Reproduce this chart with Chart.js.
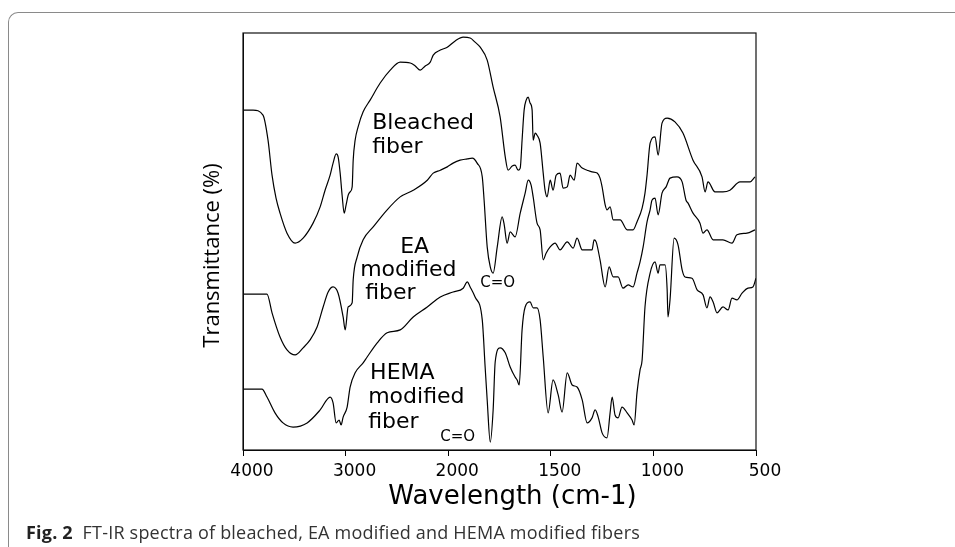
<!DOCTYPE html>
<html>
<head>
<meta charset="utf-8">
<script src="https://cdn.jsdelivr.net/npm/chart.js@4.4.0/dist/chart.umd.min.js"></script>
<style>
  html, body { margin: 0; padding: 0; background: #fff; }
  #wrap { position: relative; width: 955px; height: 547px; overflow: hidden; }
  #box { position: absolute; left: 8px; top: 12px; width: 990px; height: 600px;
         border-top: 1.5px solid #8a8a8a; border-left: 1.5px solid #8a8a8a; border-top-left-radius: 10px; }
  #chart { position: absolute; left: 0; top: 0; }
  #caption { position: absolute; left: 26px; top: 520px; font: 18px 'Open Sans', sans-serif; letter-spacing: 0.2px;
             color: #333; white-space: nowrap; }
  #caption b { color: #222; }
</style>
</head>
<body>
<div id="wrap">
  <div id="box"></div>
  <canvas id="chart" width="955" height="547"></canvas>
  <div id="caption"><b>Fig. 2</b>&nbsp; FT-IR spectra of bleached, EA modified and HEMA modified fibers</div>
</div>
<script>
// wavenumber ticks (cm-1); the axis is compressed 2:1 above 2000
const tickLabels = [4000, 3000, 2000, 1500, 1000, 500];

const bleachedWn = [4000,3902,3805,3756,3717,3678,3639,3571,3492,3414, 3317,3248,3200,3151,3122,3092,3073,3053,3034,3014,
  2995,2975,2956,2936,2926,2907,2878,2829,2761,2663, 2565,2468,2370,2321,2273,2224,2175,2146,2077,2009,
  1966,1927,1893,1869,1844,1810,1781,1747,1722,1708, 1688,1674,1659,1649,1640,1630,1620,1610,1601,1591,
  1586,1576,1567,1552,1537,1528,1518,1503,1489,1474, 1455,1440,1420,1406,1386,1372,1347,1323,1299,1274,
  1260,1250,1235,1226,1211,1196,1162,1128,1099,1080, 1055,1041,1031,1016,992,977,958,933,895,856,
  807,763,748,734,700,661,627,578,529,505];
const bleachedT = [81.5,81.5,80.3,74.3,65.9,60.4,56.8,52.0,49.6,50.8, 54.4,58.3,62.3,65.9,68.8,71.0,70.3,66.4,61.1,56.8,
  58.8,61.1,61.9,63.1,69.5,74.3,77.5,81.1,83.9,88.0, 91.1,93.0,92.8,92.1,91.1,92.1,93.0,94.7,95.9,96.6,
  98.1,99.0,98.8,97.8,96.6,93.5,87.0,79.9,70.3,67.1, 68.1,68.3,67.1,67.6,74.3,81.5,83.9,84.6,83.2,81.5,
  74.3,76.0,75.5,73.6,66.4,62.3,60.7,64.7,62.3,65.9, 66.4,62.8,63.1,65.9,64.7,68.8,67.6,67.1,66.7,66.4,
  65.2,63.1,58.8,57.6,58.3,55.2,55.2,52.8,52.8,54.7, 58.0,61.6,65.9,73.6,75.1,70.7,78.4,79.6,78.7,76.0,
  69.5,65.5,61.9,64.3,61.9,61.9,62.3,64.3,64.3,65.5];

const eaWn = [4000,3766,3717,3639,3571,3492,3414,3346,3278,3219, 3170,3122,3073,3024,3004,2975,2936,2926,2887,2829,
  2731,2595,2468,2341,2204,2146,2077,2009,1976,1942, 1907,1883,1859,1834,1825,1810,1795,1781,1761,1737,
  1727,1713,1698,1674,1649,1625,1610,1596,1586,1567, 1552,1537,1523,1503,1479,1455,1420,1391,1372,1347,
  1299,1289,1279,1260,1235,1216,1196,1172,1148,1123, 1099,1080,1065,1050,1031,1016,1007,992,977,958,
  938,919,885,860,841,831,807,773,758,739, 709,661,617,593,544,505];
const eaT = [37.4,37.4,32.9,27.1,24.0,22.8,24.5,26.4,29.5,34.3, 37.9,39.1,37.6,31.9,28.8,34.3,35.3,40.8,46.3,50.4,
  53.5,57.6,60.7,62.3,64.7,66.4,67.1,67.9,68.8,69.5, 69.8,70.0,68.8,65.5,59.9,48.7,43.9,42.4,48.7,55.9,
  54.0,49.6,52.3,51.1,56.8,61.6,64.7,63.5,60.7,54.4, 52.8,45.6,47.2,48.7,49.6,48.0,49.9,48.4,50.8,48.0,
  48.0,50.4,49.9,45.6,39.1,43.9,41.5,41.5,38.8,39.6, 39.1,42.4,45.1,48.7,54.7,57.6,59.9,60.4,56.4,61.6,
  63.1,65.2,65.5,64.3,59.9,59.2,56.8,54.4,52.0,52.8, 50.4,50.4,49.6,51.6,52.0,52.8];

const hemaWn = [4000,3815,3766,3688,3610,3512,3375,3248,3151,3122, 3092,3063,3044,3024,2985,2956,2907,2829,2790,2692,
  2595,2468,2341,2204,2077,1976,1927,1907,1893,1869, 1834,1820,1810,1795,1781,1771,1747,1722,1698,1674,
  1664,1654,1640,1625,1601,1586,1567,1552,1537,1513, 1489,1464,1445,1420,1396,1372,1347,1323,1299,1284,
  1269,1250,1226,1211,1201,1187,1172,1153,1128,1104, 1094,1080,1065,1055,1041,1016,992,977,968,943,
  933,929,919,899,880,860,846,812,787,758, 739,724,709,690,661,636,617,593,568,539,
  515,500];
const hemaT = [14.6,14.6,12.7,8.9,6.5,5.5,6.5,9.6,12.7,11.3, 6.5,7.2,6.0,7.9,10.3,15.1,18.5,20.9,22.3,25.7,
  28.1,28.8,31.9,34.3,36.7,37.9,38.8,40.3,39.1,36.7, 31.2,19.9,12.0,1.9,9.6,21.1,24.5,23.3,19.9,17.5,
  16.8,15.6,28.8,34.3,35.5,34.1,34.1,31.2,22.3,8.9, 16.8,13.2,9.1,18.5,15.6,15.1,12.0,6.5,7.7,9.6,
  7.9,4.1,2.9,8.9,12.7,8.4,7.7,10.3,8.9,7.2, 6.0,13.7,19.2,21.6,34.3,42.4,45.1,42.4,44.4,44.4,
  38.4,31.9,36.0,50.8,49.2,43.2,41.5,41.2,38.4,37.2, 34.1,36.7,35.5,32.9,34.3,33.6,36.4,36.0,37.6,38.8,
  39.1,41.2];

// text placed on the plot, in wavenumber / transmittance units
const curveNotes = [
  { text: 'Bleached', w: 2741, t: 78.4 },
  { text: 'fiber', w: 2741, t: 72.7 },
  { text: 'EA', w: 2468, t: 48.7 },
  { text: 'modified', w: 2858, t: 43.2 },
  { text: 'fiber', w: 2809, t: 37.6 },
  { text: 'C=O', w: 1844, t: 40.0, small: true },
  { text: 'HEMA', w: 2761, t: 18.5 },
  { text: 'modified', w: 2780, t: 12.7 },
  { text: 'fiber', w: 2780, t: 6.7 },
  { text: 'C=O', w: 2077, t: 3.1, small: true }
];

const xTitle = 'Wavelength (cm-1)';
const yTitle = 'Transmittance (%)';

// position along the axis: 4000-2000 at half scale, 2000-500 at full scale
function toPos(w) {
  return w >= 2000 ? (4000 - w) / 2 : 1000 + (2000 - w);
}

function series(wn, t) {
  return wn.map((w, i) => ({ x: toPos(w), y: t[i] }));
}

const plotFrame = {
  id: 'plotFrame',
  afterDatasetsDraw(chart) {
    const { ctx, chartArea: a } = chart;
    ctx.save();
    ctx.strokeStyle = '#111';
    ctx.lineWidth = 1.2;
    ctx.strokeRect(a.left, a.top, a.right - a.left, a.bottom - a.top);
    ctx.restore();
  }
};

const noteLabels = {
  id: 'noteLabels',
  afterDatasetsDraw(chart) {
    const { ctx, scales: { x, y } } = chart;
    ctx.save();
    ctx.fillStyle = '#000';
    ctx.textAlign = 'left';
    ctx.textBaseline = 'middle';
    curveNotes.forEach(n => {
      ctx.font = n.small ? '15px "DejaVu Sans"' : '22px "DejaVu Sans"';
      ctx.fillText(n.text, x.getPixelForValue(toPos(n.w)), y.getPixelForValue(n.t));
    });
    ctx.restore();
  }
};

// axis titles sit a little off-centre in the figure
const axisTitles = {
  id: 'axisTitles',
  afterDraw(chart) {
    const { ctx, chartArea: a } = chart;
    ctx.save();
    ctx.fillStyle = '#000';
    ctx.textAlign = 'center';
    ctx.textBaseline = 'middle';
    ctx.font = '26px "DejaVu Sans"';
    ctx.fillText(xTitle, (a.left + a.right) / 2 + 13, a.bottom + 47);
    ctx.translate(a.left - 30, (a.top + a.bottom) / 2 + 14);
    ctx.rotate(-Math.PI / 2);
    ctx.font = '22px "Open Sans"';
    ctx.fillText(yTitle, 0, 0);
    ctx.restore();
  }
};

const lineStyle = { borderColor: '#000', borderWidth: 1.2, pointRadius: 0, cubicInterpolationMode: 'monotone', fill: false };

new Chart(document.getElementById('chart').getContext('2d'), {
  type: 'line',
  data: {
    datasets: [
      Object.assign({ label: 'Bleached fiber', data: series(bleachedWn, bleachedT) }, lineStyle),
      Object.assign({ label: 'EA modified fiber', data: series(eaWn, eaT) }, lineStyle),
      Object.assign({ label: 'HEMA modified fiber', data: series(hemaWn, hemaT) }, lineStyle)
    ]
  },
  options: {
    responsive: false,
    animation: false,
    layout: { padding: { left: 200, right: 199, top: 33, bottom: 31 } },
    plugins: { legend: { display: false }, tooltip: { enabled: false } },
    scales: {
      x: {
        type: 'linear',
        min: 0,
        max: 2500,
        afterBuildTicks: s => { s.ticks = tickLabels.map(w => ({ value: toPos(w) })); },
        afterFit: s => { s.height = 66; },
        ticks: {
          callback: (v, i) => tickLabels[i],
          color: '#000',
          font: { family: 'DejaVu Sans', size: 17 },
          padding: 5,
          labelOffset: 9,
          maxRotation: 0,
          autoSkip: false
        },
        grid: { display: true, drawOnChartArea: false, drawTicks: true, tickLength: 6, color: '#000' },
        border: { display: true, color: '#000' },
        title: { display: false }
      },
      y: {
        min: 0,
        max: 100,
        afterFit: s => { s.width = 43; },
        ticks: { display: false },
        grid: { display: false },
        border: { display: true, color: '#000' },
        title: { display: false }
      }
    }
  },
  plugins: [plotFrame, noteLabels, axisTitles]
});
</script>
</body>
</html>
